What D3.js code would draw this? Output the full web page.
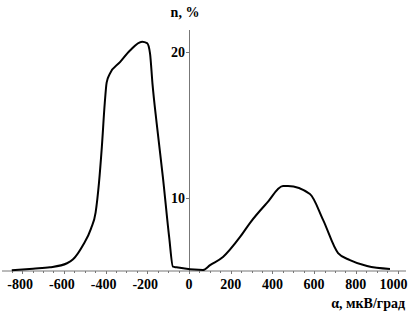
<!DOCTYPE html>
<html>
<head>
<meta charset="utf-8">
<script src="https://cdn.jsdelivr.net/npm/d3@7"></script>
<style>
  html, body { margin: 0; padding: 0; background: #fff; }
  svg { display: block; }
  text { font-family: "Liberation Serif", "DejaVu Serif", serif; font-weight: bold; fill: #000; }
</style>
</head>
<body>
<svg id="chart" width="408" height="322"></svg>
<script>
// Distribution of sensitivity alpha (µV/deg), share n in percent
const alphaValues = [-850, -748, -667, -585, -556, -508, -470, -448, -432, -418, -404, -395, -380, -331, -283, -225, -201, -187, -175, -155, -125, -95, -77, -60, 67, 101, 163, 245, 293, 374, 451, 475, 580, 643, 715, 772, 854, 964];
const nValues     = [5.05, 5.16, 5.25, 5.53, 5.8, 6.78, 7.9, 9.0, 11.0, 13.5, 16.5, 17.9, 18.5, 19.3, 20.1, 20.7, 20.6, 19.9, 17.8, 15.1, 11.4, 7.3, 5.3, 5.25, 5.07, 5.4, 5.96, 7.33, 8.3, 9.66, 10.82, 10.82, 10.27, 8.5, 6.23, 5.75, 5.34, 5.14];

const xTicks = [-800, -600, -400, -200, 0, 200, 400, 600, 800, 1000];
const xMinorTicks = d3.range(-850, 1001, 50);
const yTicks = [10, 20];
const xTitle = "α, мкВ/град";
const yTitle = "n, %";

const svg = d3.select("#chart");

const x = d3.scaleLinear().domain([0, 1000]).range([189, 397.5]);
const y = d3.scaleLinear().domain([5, 21.5]).range([271, 30]);

const axisColor = "#777";

// horizontal axis line
svg.append("line")
  .attr("x1", 2).attr("x2", 406)
  .attr("y1", y(5)).attr("y2", y(5))
  .attr("stroke", axisColor).attr("stroke-width", 1);

// minor and major ticks on the horizontal axis
svg.append("g").selectAll("line").data(xMinorTicks).join("line")
  .attr("x1", d => Math.round(x(d)) + 0.5).attr("x2", d => Math.round(x(d)) + 0.5)
  .attr("y1", y(5)).attr("y2", y(5) + 2)
  .attr("stroke", axisColor).attr("stroke-width", 1);

svg.append("g").selectAll("line").data(xTicks).join("line")
  .attr("x1", d => Math.round(x(d)) + 0.5).attr("x2", d => Math.round(x(d)) + 0.5)
  .attr("y1", y(5)).attr("y2", y(5) + 3)
  .attr("stroke", axisColor).attr("stroke-width", 1);

svg.append("g").selectAll("text").data(xTicks).join("text")
  .attr("x", d => d === 1000 ? x(d) - 4 : x(d) + (d < 0 ? -2 : 0))
  .attr("y", y(5) + 18)
  .attr("text-anchor", "middle")
  .attr("font-size", 14)
  .text(d => d);

// vertical axis line at alpha = 0
svg.append("line")
  .attr("x1", Math.round(x(0)) + 0.5).attr("x2", Math.round(x(0)) + 0.5)
  .attr("y1", y(21.5)).attr("y2", y(5))
  .attr("stroke", axisColor).attr("stroke-width", 1);

svg.append("g").selectAll("line").data(yTicks).join("line")
  .attr("x1", Math.round(x(0)) - 3).attr("x2", Math.round(x(0)))
  .attr("y1", d => Math.round(y(d)) + 0.5).attr("y2", d => Math.round(y(d)) + 0.5)
  .attr("stroke", axisColor).attr("stroke-width", 1);

svg.append("g").selectAll("text").data(yTicks).join("text")
  .attr("x", x(0) - 4)
  .attr("y", d => y(d) + 5)
  .attr("text-anchor", "end")
  .attr("font-size", 14)
  .text(d => d);

// axis titles
svg.append("text")
  .attr("x", 185).attr("y", 17)
  .attr("text-anchor", "middle")
  .attr("font-size", 14)
  .text(yTitle);

svg.append("text")
  .attr("x", 405).attr("y", 308)
  .attr("text-anchor", "end")
  .attr("font-size", 14)
  .text(xTitle);

// distribution curve
const line = d3.line()
  .x((d, i) => x(alphaValues[i]))
  .y(d => y(d))
  .curve(d3.curveMonotoneX);

svg.append("path")
  .datum(nValues)
  .attr("d", line)
  .attr("fill", "none")
  .attr("stroke", "#000")
  .attr("stroke-width", 2)
  .attr("stroke-linejoin", "round");
</script>
</body>
</html>
